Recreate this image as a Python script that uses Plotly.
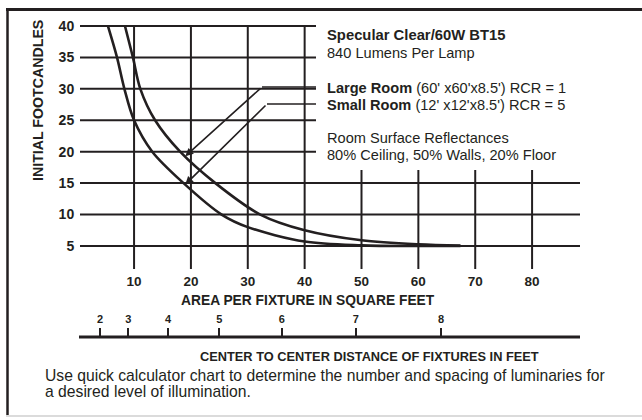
import numpy as np
import plotly.graph_objects as go

# ---------------- data ----------------
x_ticks = [10, 20, 30, 40, 50, 60, 70, 80]          # area per fixture (sq ft)
y_ticks = [5, 10, 15, 20, 25, 30, 35, 40]           # initial footcandles
distance_ticks = [2, 3, 4, 5, 6, 7, 8]              # center-to-center distance (ft)

area_large = [8.4, 9.8, 11.1, 13.7, 18.1, 24.3, 32.2, 40, 50, 60, 67.4]
fc_large = [40, 35, 30, 25, 20, 15, 10, 7.5, 5.9, 5.25, 5.05]
area_small = [5.4, 7.0, 8.3, 10.0, 13.2, 18.7, 25.4, 30, 40, 50, 60, 67.4]
fc_small = [40, 35, 30, 25, 20, 15, 10, 8.0, 5.7, 5.1, 5.0, 5.0]
arrow_area = 19.0

# ---------------- geometry (pixel mapping) ----------------
W, H = 642, 420
PX0, PXU = 77.2, 5.686      # px of area 0, px per sq ft
PY0, PYU = 277.4, 6.286     # px of 0 fc, px per fc
xr = [-PX0 / PXU, (W - PX0) / PXU]
yr = [(PY0 - H) / PYU, PY0 / PYU]

def ax_(px):
    return (px - PX0) / PXU

def fy(py):
    return (PY0 - py) / PYU

def pxf(px):
    return px / W

def pyf(py):
    return 1 - py / H

INK = "#231f20"
FONT = "Liberation Sans Narrow, Arial Narrow, Liberation Sans, Arial, sans-serif"

fig = go.Figure()
fig.add_trace(go.Scatter(x=area_large, y=fc_large, mode="lines",
                         line=dict(color=INK, width=2.6, shape="spline", smoothing=0.9),
                         hoverinfo="skip", showlegend=False))
fig.add_trace(go.Scatter(x=area_small, y=fc_small, mode="lines",
                         line=dict(color=INK, width=2.6, shape="spline", smoothing=0.9),
                         hoverinfo="skip", showlegend=False))
# secondary axis carrier
fig.add_trace(go.Scatter(x=[d * d for d in distance_ticks], y=[None] * len(distance_ticks),
                         xaxis="x2", mode="lines", hoverinfo="skip", showlegend=False))

shapes = []
glw = dict(color=INK, width=2)
x_left = ax_(80)
for v in y_ticks:
    x_end = ax_(316) if v >= 20 else ax_(580)
    shapes.append(dict(type="line", xref="x", yref="y", x0=x_left, x1=x_end, y0=v, y1=v, line=glw))
for v in x_ticks:
    y_top = 40 if v <= 40 else fy(170)
    shapes.append(dict(type="line", xref="x", yref="y", x0=v, x1=v, y0=fy(269), y1=y_top, line=glw))

# secondary (distance) axis line
shapes.append(dict(type="line", xref="x", yref="paper", x0=ax_(79), x1=ax_(580),
                   y0=pyf(337), y1=pyf(337), line=dict(color=INK, width=3)))

# frame
shapes.append(dict(type="line", xref="paper", yref="paper", x0=pxf(6), x1=1, y0=pyf(9.5), y1=pyf(9.5),
                   line=dict(color=INK, width=3)))
shapes.append(dict(type="line", xref="paper", yref="paper", x0=pxf(7.5), x1=pxf(7.5), y0=pyf(8), y1=pyf(415),
                   line=dict(color=INK, width=2.5)))
shapes.append(dict(type="line", xref="paper", yref="paper", x0=pxf(6), x1=1, y0=pyf(416), y1=pyf(416),
                   line=dict(color="#cfcfcf", width=1.5)))

# leader lines
tip_large = float(np.interp(arrow_area, area_large, fc_large))
tip_small = float(np.interp(arrow_area, area_small, fc_small))
lead = [(87, 262, tip_large), (104, 267, tip_small)]
ann = []
for py, pxk, tip in lead:
    shapes.append(dict(type="line", xref="x", yref="y", x0=ax_(pxk), x1=ax_(316), y0=fy(py), y1=fy(py),
                       line=dict(color=INK, width=1.6)))
    ann.append(dict(x=arrow_area, y=tip, ax=ax_(pxk), ay=fy(py), xref="x", yref="y", axref="x", ayref="y",
                    text="", showarrow=True, arrowhead=2, arrowsize=1.0, arrowwidth=1.6, arrowcolor=INK,
                    standoff=0))

def txt(s, px, py, size, bold=False, xanchor="left", angle=0):
    if bold:
        s = "<b>" + s + "</b>"
    return dict(text=s, x=pxf(px), y=pyf(py), xref="paper", yref="paper", xanchor=xanchor,
                yanchor="middle", showarrow=False, textangle=angle,
                font=dict(family=FONT, size=size, color=INK))

ann += [
    txt("Specular Clear/60W BT15", 325, 35, 14.8, bold=True),
    txt("840 Lumens Per Lamp", 325, 53, 14.6),
    txt("<b>Large Room</b> (60' x60'x8.5') RCR = 1", 325, 88, 14.6),
    txt("<b>Small Room</b> (12' x12'x8.5') RCR = 5", 325, 105, 14.6),
    txt("Room Surface Reflectances", 325, 138, 14.6),
    txt("80% Ceiling, 50% Walls, 20% Floor", 325, 155, 14.6),
    txt("INITIAL FOOTCANDLES", 38, 101, 14.2, bold=True, xanchor="center", angle=-90),
    txt("AREA PER FIXTURE IN SQUARE FEET", 308, 300, 13.8, bold=True, xanchor="center"),
    txt("CENTER TO CENTER DISTANCE OF FIXTURES IN FEET", 369, 356, 12.8, bold=True, xanchor="center"),
    txt("Use quick calculator chart to determine the number and spacing of luminaries for", 43, 375, 15.7),
    txt("a desired level of illumination.", 43, 391, 15.7),
]

fig.update_layout(
    width=W, height=H, margin=dict(l=0, r=0, t=0, b=0, pad=0, autoexpand=False),
    paper_bgcolor="white", plot_bgcolor="white",
    shapes=shapes, annotations=ann, showlegend=False,
    xaxis=dict(range=xr, domain=[0, 1], anchor="free", position=pyf(271), showgrid=False, zeroline=False,
               showline=False, ticks="", tickvals=x_ticks, automargin=False,
               tickfont=dict(family=FONT, size=13.5, color=INK, weight="bold"), fixedrange=True),
    xaxis2=dict(range=xr, overlaying="x", anchor="free", position=pyf(337), side="top", showgrid=False,
                zeroline=False, showline=False, ticks="outside", ticklen=9, tickwidth=2, tickcolor=INK,
                tickvals=[d * d for d in distance_ticks], ticktext=[str(d) for d in distance_ticks],
                ticklabelstandoff=1, automargin=False,
                tickfont=dict(family=FONT, size=11, color=INK, weight="bold"), fixedrange=True),
    yaxis=dict(range=yr, domain=[0, 1], anchor="free", position=pxf(PX0), showgrid=False, zeroline=False,
               showline=False, ticks="", tickvals=y_ticks, automargin=False, ticklabelstandoff=3,
               tickfont=dict(family=FONT, size=14, color=INK, weight="bold"), fixedrange=True),
)
fig.write_html("out.html", config={"displayModeBar": False},
               post_script="document.body.style.margin='0px';")
